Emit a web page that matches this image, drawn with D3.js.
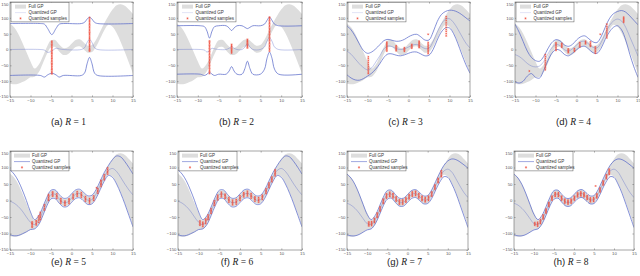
<!DOCTYPE html>
<html><head><meta charset="utf-8">
<script src="https://cdn.jsdelivr.net/npm/d3@7"></script>
<style>body{margin:0;background:#fff}svg{display:block}</style>
</head><body>
<svg id="chart" width="640" height="276"></svg>
<script>
// ---------------- data ----------------
const gridX = [-15,-14,-13,-12,-11,-10,-9,-8,-7,-6,-5,-4,-3,-2,-1,0,1,2,3,4,5,6,7,8,9,10,11,12,13,14,15];
const fullUpper = [82,70,50,22,-8,-38,-60,-48,-22,8,29,30,16,5,6,18,30,32,22,12,14,31,57,83,106,126,140,143,138,126,112];
const fullLower = [-108,-110,-108,-103,-96,-88,-86,-72,-44,-14,7,8,-6,-17,-16,-4,8,10,0,-10,-8,9,35,61,78,72,52,24,-8,-42,-76];

const aX = [-15,-7.6,-6.6,-5.8,-4.8,-3.8,-3.0,-2.0,2.4,3.2,3.8,4.4,5.0,5.6,6.4,15];
const aUpper = [82,82,80,66,47,66,80,82,82,86,96,102,96,86,82,82];
const aMean = [0,0,-2,-9,-5,4,2,0,0,6,22,32,22,6,0,0];
const aLower = [-82,-82,-87,-80,-75,-80,-87,-82,-82,-74,-45,-25,-45,-74,-82,-82];
const aSampleX = [-4.8,4.4];
const aSampleY = [
  [-77,-73,-69,-64,-61,-56,-52,-47,-44,-39,-35,-30,-27,-22,-18,-13,-10,-5,-1,4,8,13,17,22,26],
  [-5,-1,3,8,12,16,21,25,29,34,37,42,47,51,55,60,64,69,73,78,82,87,91,96,101]
];

const bX = [-15,-9.4,-8.4,-7.8,-7.2,-6.6,-6.0,-5.0,-3.2,-2.5,-1.9,-1.3,-0.6,0.6,1.3,1.9,2.5,3.2,5.0,6.0,6.6,7.2,7.8,8.4,9.4,15];
const bUpper = [75,75,72,58,36,58,72,75,75,68,60,68,75,75,70,66,70,75,75,80,92,102,92,80,75,75];
const bMean = [0,0,-2,-8,-4,4,2,0,0,4,9,4,0,0,8,18,8,0,0,8,26,37,26,8,0,0];
const bLower = [-78,-78,-82,-78,-72,-78,-82,-78,-78,-68,-54,-68,-78,-78,-60,-37,-60,-78,-78,-62,-28,-8,-28,-62,-78,-78];
const bSampleX = [-7.2,-1.9,1.9,7.2];
const bSampleY = [
  [-76,-71,-67,-62,-58,-53,-49,-44,-40,-35,-31,-26,-22,-17,-13,-8,-4,1,5,10,14,19,23,27],
  [-11,-7,-3,1,5,9,12,16],
  [5,9,13,17,21,25,28,32],
  [-5,0,4,9,13,18,22,27,31,36,40,45,49,54,58,63,67,72,76,81,85,90,94,99,102]
];

const cMean = [-5,-15,-30,-45,-57,-64,-58,-40,-20,2,11,9,3,0,2,8,14,16,10,3,4,25,55,80,95,97,85,65,42,20,5];
const cUpper = [75,62,42,18,-3,-12,-8,2,15,28,32,29,26,27,32,40,46,48,40,30,30,55,88,110,120,124,123,118,110,100,90];
const cLower = [-80,-90,-96,-97,-92,-84,-75,-62,-45,-25,-14,-14,-18,-20,-17,-12,-8,-8,-14,-20,-18,0,30,55,68,68,50,20,-15,-48,-75];
const cSampleX = [-9.8,-5.3,-3.0,-1.0,0.8,2.6,4.8,9.2];
const cSampleY = [
  [-76,-71,-65,-59,-53,-47,-41,-35,-29,-23],
  [-5,-1,3,7,11,15,19,23],
  [-4,0,4,8,12],
  [-6,-2,2,6],
  [4,8,12,16],
  [6,10,14,18,22,26],
  [-13,-8,-3,2,7,12,17,22,48],
  [43,50,57,63,70,77,84,91,98,104]
];

const dMean = [-16,-22,-32,-44,-52,-55,-52,-38,-15,6,16,12,0,-5,2,14,24,26,17,7,5,22,50,75,90,96,90,70,40,10,-21];
const dUpper = [80,55,25,-5,-25,-35,-37,-22,2,22,31,27,15,10,16,30,40,43,34,24,22,40,70,97,113,120,123,118,106,92,78];
const dLower = [-102,-106,-100,-84,-76,-88,-90,-66,-36,-12,0,-3,-15,-20,-12,-1,8,10,1,-10,-12,4,32,55,70,75,62,30,-15,-55,-88];
const dSampleX = [-11.5,-7.6,-5.0,-3.6,-2.0,-0.5,0.8,2.2,3.4,4.6,5.8,7.4,11.5];
const dSampleY = [
  [-68],
  [-64,-58,-52,-46,-40,-34,-28,-22,-16],
  [-3,2,7,12,17,21],
  [7,11,15,19],
  [-10,-6,-2,2],
  [-6,-2,3],
  [8,12,17,22],
  [18,22,26],
  [10,14,19,24],
  [-12,-7,-2,3,8],
  [48],
  [37,43,49,55,61,67,73,80],
  [86,90,94,98,102]
];

const eMean = [-2,-8,-18,-32,-50,-66,-73,-60,-33,-3,18,19,5,-6,-5,7,19,21,11,1,3,20,46,72,91,97,88,70,50,32,17];
const eUpper = [93,80,60,32,0,-35,-58,-46,-20,10,31,32,18,7,8,20,32,34,24,14,16,33,59,85,106,124,135,132,118,100,80];
const eLower = [-104,-107,-106,-101,-95,-88,-86,-73,-46,-16,5,6,-8,-19,-18,-6,6,8,-2,-12,-10,7,33,59,76,70,50,22,-10,-45,-80];
const eSampleX = [-9.6,-8.6,-8.0,-7.6,-6.6,-5.6,-4.6,-3.6,-2.6,-1.6,-0.6,0.4,1.4,2.4,3.4,4.4,5.4,6.1,6.4,7.2,8.0,8.8];
const eSampleY = [
  [-81,-77,-72,-69,-65],[-74,-70,-65,-61],[-66,-59,-53,-47],[-58,-52,-47,-41,-36],
  [-29,-24,-18,-13],[0,4,9,14,18],[13,17,22,26],[6,11,15,20],[-8,-3,1,6],
  [-15,-10,-6,-2],[-9,-4,1,5],[5,9,14,19],[13,18,22,27],[10,15,19,24],
  [-2,3,7,12],[-8,-3,1,6],[0,5,9,14],[39],[22,27,31,36],[43,48,52,57,61],
  [63,68,73,78],[80,85,89,94,99]
];

const hMean = [-8,-14,-24,-38,-55,-70,-72,-58,-32,-3,17,19,6,-5,-5,6,18,21,12,2,3,19,45,70,89,95,86,66,44,24,9];
const hUpper = [80,68,48,20,-12,-42,-58,-45,-19,10,30,31,18,7,7,18,30,33,24,14,15,32,58,84,106,120,126,124,117,108,98];
const hLower = [-104,-107,-107,-103,-96,-89,-86,-71,-45,-16,4,7,-6,-17,-17,-6,6,9,0,-10,-9,6,32,56,72,70,50,22,-12,-47,-82];

const fSampleX = [-9.7,-9.0,-8.3,-7.7,-7.0,-6.2,-5.4,-4.5,-3.6,-2.7,-1.8,-0.9,0,0.9,1.8,2.7,3.6,4.5,5.4,6.3,7.0,7.7,8.5];
const fSampleY = [
  [-75,-71,-66,-62],[-79,-74,-70,-66],[-70,-65,-60,-56],[-58,-53,-49,-44],
  [-39,-34,-30,-25],[-15,-10,-6,-1],[2,7,11,16],[11,16,20,25],[6,10,15,19],
  [-5,0,4,9],[-13,-8,-4,1],[-11,-6,-2,3],[0,5,9,14],[11,16,20,24],[14,19,23,28],
  [7,12,16,21],[-2,3,7,11],[-5,0,4,9],[3,8,12,16],[21,26,30,35],[39,44,48,53],
  [57,62,66,71],[75,80,84,89,93]
];
const gSampleX = [-9.6,-8.9,-8.2,-7.5,-6.8,-6.0,-5.2,-4.4,-3.6,-2.8,-2.0,-1.2,-0.4,0.4,1.2,2.0,2.8,3.6,4.4,5.2,6.0,6.8,7.6,8.4];
const gSampleY = [
  [-77,-73,-69,-65],[-76,-72,-68,-64],[-67,-63,-58,-54],[-51,-47,-42,-38],
  [-32,-28,-23,-19],[-9,-5,0,4],[7,11,16,20],[12,16,21,25],[8,12,17,21],
  [-2,2,7,11],[-11,-7,-2,2],[-11,-7,-2,2],[-5,-1,4,8],[5,9,14,18],[13,17,22,26],
  [15,19,24,28],[8,12,17,21],[0,4,9,13],[-4,0,5,9],[0,4,9,13],[13,17,22,26],
  [34,38,43,47],[54,58,63,67],[72,76,81,85,90]
];
const hSampleX = [-9.8,-9.1,-8.4,-7.7,-7.0,-6.3,-5.5,-4.7,-3.9,-3.1,-2.3,-1.5,-0.7,0.1,0.9,1.7,2.5,3.3,4.1,4.9,5.4,5.7,6.5,7.3,8.1,8.8];
const hSampleY = [
  [-75,-71,-67],[-78,-74,-70,-66],[-70,-66,-62,-58],[-56,-52,-48,-44],
  [-38,-34,-30,-26],[-18,-14,-10,-6],[1,5,9,13],[12,16,20,24],[12,16,20,24],
  [1,5,9,13],[-8,-4,0,4],[-11,-7,-3,1],[-8,-4,0,4],[1,5,9,13],[11,15,19,23],
  [14,18,22,26],[11,15,19,23],[3,7,11,15],[-4,0,4,8],[-3,1,5,9],[44],
  [8,12,16,20],[26,30,34,38],[47,51,55,59],[66,70,74,78],[79,83,87,91,95]
];

const xTicks = [-15,-10,-5,0,5,10,15];
const yTicks = [-150,-100,-50,0,50,100,150];
const captionLetters = ["(a)","(b)","(c)","(d)","(e)","(f)","(g)","(h)"];
const rValues = [1,2,3,4,5,6,7,8];
const legendLabels = ["Full GP","Quantized GP","Quantized samples"];

// ---------------- layout ----------------
const panels = [
  {x:aX, up:aUpper, mean:aMean, lo:aLower, sx:aSampleX, sy:aSampleY, box:[10,133,2,97]},
  {x:bX, up:bUpper, mean:bMean, lo:bLower, sx:bSampleX, sy:bSampleY, box:[177,302,2,97]},
  {x:gridX, up:cUpper, mean:cMean, lo:cLower, sx:cSampleX, sy:cSampleY, box:[347,470,2,97]},
  {x:gridX, up:dUpper, mean:dMean, lo:dLower, sx:dSampleX, sy:dSampleY, box:[515,638,2,97]},
  {x:gridX, up:eUpper, mean:eMean, lo:eLower, sx:eSampleX, sy:eSampleY, box:[10,133,151,250]},
  {x:gridX, up:eUpper, mean:eMean, lo:eLower, sx:fSampleX, sy:fSampleY, box:[178,302,151,250]},
  {x:gridX, up:hUpper, mean:hMean, lo:hLower, sx:gSampleX, sy:gSampleY, box:[347,468,151,250]},
  {x:gridX, up:hUpper, mean:hMean, lo:hLower, sx:hSampleX, sy:hSampleY, box:[514,634,151,250]}
];
const capY = [125, 265];
const BLUE = "#5565c8", GRAY = "#dddddd", RED = "#f04a38", AX = "#6a6a6a";

const svg = d3.select("#chart");
const defs = svg.append("defs");

function starPath(cx, cy, r) {
  const d = r * 0.7;
  return `M${cx-r},${cy}L${cx+r},${cy}M${cx},${cy-r}L${cx},${cy+r}` +
         `M${cx-d},${cy-d}L${cx+d},${cy+d}M${cx-d},${cy+d}L${cx+d},${cy-d}`;
}

panels.forEach((p, i) => {
  const [x0, x1, yt, yb] = p.box;
  const xs = d3.scaleLinear().domain([-15, 15]).range([x0, x1]);
  const ys = d3.scaleLinear().domain([-150, 150]).range([yb, yt]);
  const g = svg.append("g");
  const cid = "clip" + i;
  defs.append("clipPath").attr("id", cid).append("rect")
    .attr("x", x0).attr("y", yt).attr("width", x1 - x0).attr("height", yb - yt);
  const plot = g.append("g").attr("clip-path", `url(#${cid})`);

  // full GP band
  const band = gridX.map((x, j) => ({x, u: fullUpper[j], l: fullLower[j]}));
  plot.append("path").datum(band)
    .attr("d", d3.area().x(d => xs(d.x)).y0(d => ys(d.l)).y1(d => ys(d.u)).curve(d3.curveCatmullRom))
    .attr("fill", GRAY);

  // quantized GP lines
  const line = d3.line().x(d => xs(d[0])).y(d => ys(d[1])).curve(d3.curveCatmullRom);
  [p.up, p.mean, p.lo].forEach((arr, k) => {
    plot.append("path").datum(p.x.map((x, j) => [x, arr[j]]))
      .attr("d", line).attr("fill", "none")
      .attr("stroke", BLUE).attr("stroke-width", k === 1 ? 0.6 : 0.75)
      .attr("stroke-opacity", k === 1 ? 0.6 : 0.95);
  });

  // samples
  const pts = [];
  p.sx.forEach((x, j) => p.sy[j].forEach(y => pts.push([x, y])));
  plot.append("g").selectAll("path").data(pts).join("path")
    .attr("d", d => starPath(xs(d[0]), ys(d[1]), 1.0))
    .attr("stroke", RED).attr("stroke-width", 0.4).attr("fill", "none");

  // axes
  const fontAttrs = sel => sel.selectAll("text")
    .attr("font-size", 4.3).attr("font-family", "Liberation Sans, Arial, sans-serif").attr("fill", "#555");
  const styleAx = sel => { sel.select(".domain").remove(); sel.selectAll("line").attr("stroke", AX).attr("stroke-width", 0.5); };

  const bx = g.append("g").attr("transform", `translate(0,${yb})`)
    .call(d3.axisBottom(xs).tickValues(xTicks).tickSizeInner(-1.6).tickSizeOuter(0).tickPadding(1.8));
  styleAx(bx); fontAttrs(bx); bx.attr("font-size", null).attr("font-family", null);
  const tx = g.append("g").attr("transform", `translate(0,${yt})`)
    .call(d3.axisTop(xs).tickValues(xTicks).tickSizeInner(-1.6).tickSizeOuter(0).tickFormat(""));
  styleAx(tx);
  const ly = g.append("g").attr("transform", `translate(${x0},0)`)
    .call(d3.axisLeft(ys).tickValues(yTicks).tickSizeInner(-1.6).tickSizeOuter(0).tickPadding(1.5));
  styleAx(ly); fontAttrs(ly); ly.attr("font-size", null).attr("font-family", null);
  ly.selectAll(".tick text").attr("dy", d => d === 150 ? "0.9em" : d === -150 ? "0em" : "0.32em");
  const ry = g.append("g").attr("transform", `translate(${x1},0)`)
    .call(d3.axisRight(ys).tickValues(yTicks).tickSizeInner(-1.6).tickSizeOuter(0).tickFormat(""));
  styleAx(ry);
  g.append("rect").attr("x", x0).attr("y", yt).attr("width", x1 - x0).attr("height", yb - yt)
    .attr("fill", "none").attr("stroke", AX).attr("stroke-width", 0.6);

  // legend
  const top = i < 4;
  const lg = g.append("g").attr("transform", `translate(${x0 + 1},${yt + 0.4})`);
  const lw = 58, lh = 19.5;
  lg.append("rect").attr("width", lw).attr("height", lh).attr("fill", "#fff")
    .attr("stroke", "#555").attr("stroke-width", 0.5);
  const sw0 = top ? 4 : 3, sw1 = top ? 15 : 19, tx0 = top ? 17.5 : 21;
  const rowsY = [4.2, 10.2, 16];
  lg.append("rect").attr("x", sw0).attr("y", rowsY[0] - 2).attr("width", sw1 - sw0).attr("height", 4).attr("fill", GRAY);
  lg.append("line").attr("x1", sw0).attr("x2", sw1).attr("y1", rowsY[1]).attr("y2", rowsY[1])
    .attr("stroke", BLUE).attr("stroke-width", 0.7).attr("stroke-opacity", top ? 0.25 : 0.8);
  lg.append("path").attr("d", starPath((sw0 + sw1) / 2, rowsY[2], 1.1))
    .attr("stroke", RED).attr("stroke-width", 0.45).attr("fill", "none");
  lg.selectAll("text.lab").data(legendLabels).join("text").attr("class", "lab")
    .attr("x", tx0).attr("y", (d, k) => rowsY[k]).attr("dy", "0.35em")
    .attr("font-size", 4.5).attr("font-family", "Liberation Sans, Arial, sans-serif").attr("fill", "#333")
    .text(d => d);

  // caption
  const cap = svg.append("text").attr("x", (x0 + x1) / 2 - 3).attr("y", capY[top ? 0 : 1])
    .attr("text-anchor", "middle").attr("font-size", 9.5).attr("fill", "#222");
  cap.append("tspan").attr("font-family", "Liberation Sans, Arial, sans-serif").text(captionLetters[i] + " ");
  cap.append("tspan").attr("font-family", "Liberation Serif, Times New Roman, serif").attr("font-style", "italic").text("R");
  cap.append("tspan").attr("font-family", "Liberation Serif, Times New Roman, serif").text(" = " + rValues[i]);
});
</script>
</body></html>
